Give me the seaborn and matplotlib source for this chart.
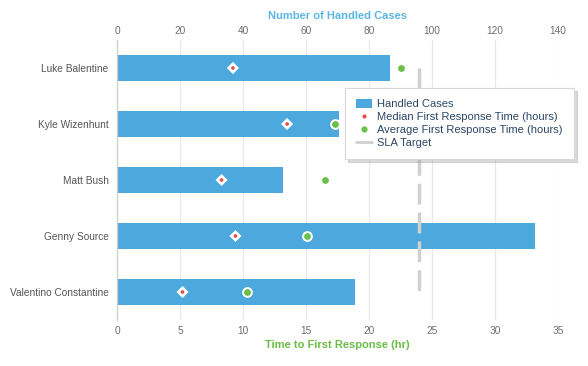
import matplotlib
matplotlib.use("Agg")
import matplotlib.pyplot as plt
import seaborn as sns
import pandas as pd
from matplotlib.patches import Patch
from matplotlib.lines import Line2D

# -------------------------------
# DATA
# -------------------------------
agents = ["Luke Balentine", "Kyle Wizenhunt", "Matt Bush", "Genny Source", "Valentino Constantine"]
handled_cases = [86.7, 70.5, 52.8, 132.8, 75.7]
median_response = [9.2, 13.5, 8.3, 9.4, 5.2]
average_response = [22.5, 17.3, 16.5, 15.1, 10.3]
sla_target = 24

case_ticks = [0, 20, 40, 60, 80, 100, 120, 140]
hour_ticks = [0, 5, 10, 15, 20, 25, 30, 35]

BLUE = "#4ca8dd"
RED = "#e2504c"
GREEN = "#6cbf4a"
GRID = "#e8e8e8"
TEXT = "#6e6e6e"

df = pd.DataFrame({"agent": agents, "cases": handled_cases,
                   "median": median_response, "average": average_response})

# -------------------------------
# STYLE
# -------------------------------
sns.set_style("white")
plt.rcParams['font.family'] = ['Liberation Sans', 'DejaVu Sans']

fig = plt.figure(figsize=(5.88, 3.66), dpi=100)
ax = fig.add_axes([117 / 588, 1 - 320 / 366, 441 / 588, 280 / 366])

# bars on the "cases" axis (top)
sns.barplot(data=df, x="cases", y="agent", orient="h", color=BLUE,
            width=0.46, saturation=1, edgecolor="none", ax=ax, zorder=2)

# response times on the "hours" axis (bottom)
ax2 = ax.twiny()

# top axis setup (after twiny, which resets tick sides)
ax.set_xlim(case_ticks[0], case_ticks[-1])
ax.set_xticks(case_ticks)
ax.xaxis.tick_top()
ax.xaxis.set_label_position("top")
ax.set_xlabel("Number of Handled Cases", color="#5bb6e4", fontsize=8,
              fontweight="bold", labelpad=5)
ax.set_ylabel("")
ax.grid(axis="x", color=GRID, linewidth=0.9, zorder=0)
ax.set_axisbelow(True)
ax.tick_params(axis="both", length=0, labelsize=7.3, colors=TEXT, pad=3)
ax.tick_params(axis="y", labelcolor="#555555", pad=6)
for s in ["top", "right", "bottom"]:
    ax.spines[s].set_visible(False)
ax.spines["left"].set_color("#cccccc")
ax.spines["left"].set_linewidth(0.9)

ax2.set_xlim(hour_ticks[0], hour_ticks[-1])
ax2.set_xticks(hour_ticks)
ax2.xaxis.tick_bottom()
ax2.xaxis.set_label_position("bottom")
for s in ax2.spines.values():
    s.set_visible(False)
ax2.tick_params(axis="x", length=0, labelsize=7.3, colors=TEXT, pad=4.5)

ypos = list(range(len(agents)))
ax2.plot([sla_target, sla_target], [ypos[0], ypos[-1]], color="#d0d0d0",
         linewidth=2.5, dashes=(6, 2.3), zorder=3)

sns.scatterplot(x=df["median"], y=ypos, marker="D", s=38, color="white",
                edgecolor="none", ax=ax2, zorder=4)
sns.scatterplot(x=df["median"], y=ypos, marker="o", s=7, color=RED,
                edgecolor="none", ax=ax2, zorder=5)
sns.scatterplot(x=df["average"], y=ypos, marker="o", s=40, color=GREEN,
                edgecolor="white", linewidth=1.4, ax=ax2, zorder=4)
ax2.set_ylim(len(agents) - 0.5, -0.5)
ax.set_ylim(len(agents) - 0.5, -0.5)
ax2.set_xlabel("Time to First Response (hr)", color="#6abd45", fontsize=8,
               fontweight="bold", labelpad=3)
ax2.set_ylabel("")

# legend
handles = [
    Patch(facecolor=BLUE, edgecolor="none", label="Handled Cases"),
    Line2D([], [], marker="o", color="none", markerfacecolor=RED,
           markeredgecolor="none", markersize=3, label="Median First Response Time (hours)"),
    Line2D([], [], marker="o", color="none", markerfacecolor=GREEN,
           markeredgecolor="none", markersize=4.5, label="Average First Response Time (hours)"),
    Line2D([], [], color="#d0d0d0", linewidth=2, label="SLA Target"),
]
leg = fig.legend(handles=handles, loc="upper left",
                 bbox_to_anchor=(345 / 588, 1 - 88 / 366), fontsize=8,
                 frameon=True, fancybox=False,
                 shadow={"color": "#999999", "alpha": 0.35, "ox": 2, "oy": -2},
                 handlelength=1.4, handleheight=0.8, handletextpad=0.5,
                 labelspacing=0.25, borderpad=1.0, borderaxespad=0)
leg.get_frame().set_edgecolor("#d8d8d8")
leg.get_frame().set_linewidth(0.8)
for t in leg.get_texts():
    t.set_color("#2c4766")
leg.set_zorder(10)

plt.savefig("out.png", dpi=100)
